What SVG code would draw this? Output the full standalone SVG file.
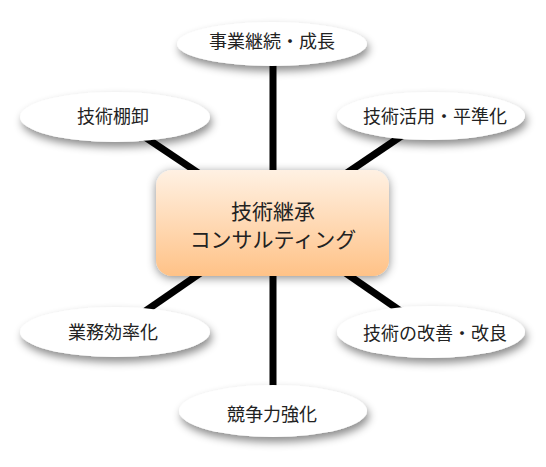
<svg xmlns="http://www.w3.org/2000/svg" width="546" height="467" viewBox="0 0 546 467">
<defs>
<filter id="sh" x="-20%" y="-40%" width="140%" height="190%">
<feDropShadow dx="2" dy="5" stdDeviation="4" flood-color="#000" flood-opacity="0.45"/>
</filter>
<filter id="shb" x="-20%" y="-30%" width="140%" height="160%">
<feDropShadow dx="0" dy="2" stdDeviation="5" flood-color="#000" flood-opacity="0.45"/>
</filter>
<linearGradient id="gb" x1="0" y1="0" x2="0" y2="1">
<stop offset="0" stop-color="#fff1e3"/>
<stop offset="1" stop-color="#ffc287"/>
</linearGradient>
<style>
.e{fill:#fff;filter:url(#sh)}
.t{font-family:"Noto Sans CJK JP","Noto Sans",sans-serif;font-size:18px;fill:#222;text-anchor:middle}
.c{font-family:"Noto Sans CJK JP","Noto Sans",sans-serif;font-size:21px;fill:#222;text-anchor:middle}
.l{stroke:#000;stroke-width:7;fill:none}
</style>
</defs>
<rect width="546" height="467" fill="#fff"/>
<g id="connectors">
<line class="l" x1="273" y1="223" x2="273" y2="44"/>
<line class="l" x1="273" y1="223" x2="273" y2="411"/>
<line class="l" x1="273" y1="223" x2="115" y2="117"/>
<line class="l" x1="273" y1="223" x2="431" y2="116"/>
<line class="l" x1="273" y1="223" x2="115" y2="332"/>
<line class="l" x1="273" y1="223" x2="431" y2="332"/>
</g>
<g id="n-top"><ellipse class="e" cx="272" cy="44" rx="95" ry="22"/><text class="t" x="272" y="48">事業継続・成長</text></g>
<g id="n-lt"><ellipse class="e" cx="115" cy="117" rx="95" ry="25"/><text class="t" x="113" y="123">技術棚卸</text></g>
<g id="n-rt"><ellipse class="e" cx="431" cy="116" rx="94" ry="24"/><text class="t" x="435" y="123">技術活用・平準化</text></g>
<g id="n-lb"><ellipse class="e" cx="115" cy="332" rx="95" ry="25"/><text class="t" x="113" y="339">業務効率化</text></g>
<g id="n-rb"><ellipse class="e" cx="431" cy="332" rx="94" ry="26"/><text class="t" x="435" y="340">技術の改善・改良</text></g>
<g id="n-bottom"><ellipse class="e" cx="273" cy="411" rx="94" ry="26"/><text class="t" x="272" y="421">競争力強化</text></g>
<g id="n-center"><rect x="156" y="170" width="233" height="106" rx="16" fill="url(#gb)" filter="url(#shb)"/><text class="c" x="273" y="219">技術継承</text><text class="c" x="273" y="247">コンサルティング</text></g>
</svg>
